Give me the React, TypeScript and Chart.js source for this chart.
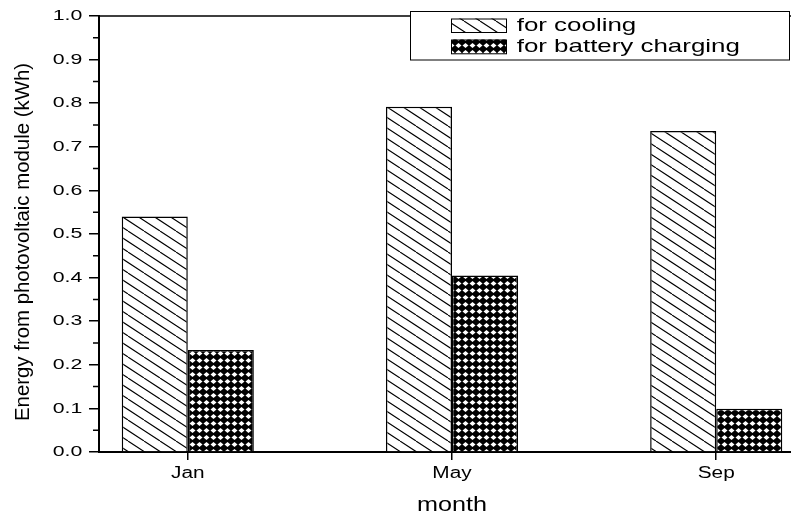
import { useEffect, useRef } from 'react';
import { Chart, registerables } from 'chart.js';

Chart.register(...registerables);

// ---- data ----
const months = ['Jan', 'May', 'Sep'];
const monthPositions = [1, 2, 3];
const coolingEnergy = [0.54, 0.792, 0.736];
const chargingEnergy = [0.234, 0.405, 0.099];
const seriesLabels = ['for cooling', 'for battery charging'];
const xAxisTitle = 'month';
const yAxisTitle = 'Energy from photovoltaic module (kWh)';

const FONT = "'Liberation Sans', Arial, Helvetica, sans-serif";

function stretchText(
  ctx: CanvasRenderingContext2D,
  text: string,
  x: number,
  y: number,
  size: number,
  sx: number,
  align: CanvasTextAlign,
  baseline: CanvasTextBaseline,
  rotate = 0
) {
  ctx.save();
  ctx.translate(x, y);
  if (rotate) ctx.rotate(rotate);
  ctx.scale(sx, 1);
  ctx.font = `${size}px ${FONT}`;
  ctx.fillStyle = '#000';
  ctx.textAlign = align;
  ctx.textBaseline = baseline;
  ctx.fillText(text, 0, 0);
  ctx.restore();
}

function makeHatch(ctx: CanvasRenderingContext2D): CanvasPattern | string {
  const c = document.createElement('canvas');
  c.width = 32;
  c.height = 21;
  const g = c.getContext('2d')!;
  g.fillStyle = '#fff';
  g.fillRect(0, 0, 32, 21);
  g.strokeStyle = '#000';
  g.lineWidth = 1.1;
  g.beginPath();
  for (let x0 = -48; x0 <= 32; x0 += 16) {
    g.moveTo(x0, 0);
    g.lineTo(x0 + 32, 21);
  }
  g.stroke();
  return ctx.createPattern(c, 'repeat') || '#fff';
}

function makeCross(ctx: CanvasRenderingContext2D): CanvasPattern | string {
  const c = document.createElement('canvas');
  c.width = 7;
  c.height = 7;
  const g = c.getContext('2d')!;
  g.fillStyle = '#000';
  g.fillRect(0, 0, 7, 7);
  g.fillStyle = '#fff';
  g.beginPath();
  g.moveTo(3.5, 0.9);
  g.lineTo(6.5, 3.5);
  g.lineTo(3.5, 6.1);
  g.lineTo(0.5, 3.5);
  g.closePath();
  g.fill();
  return ctx.createPattern(c, 'repeat') || '#000';
}

export default function App() {
  const canvasRef = useRef<HTMLCanvasElement | null>(null);

  useEffect(() => {
    const canvas = canvasRef.current;
    if (!canvas) return;
    const ctx0 = canvas.getContext('2d')!;
    const hatch = makeHatch(ctx0);
    const cross = makeCross(ctx0);
    const patterns = [hatch, cross];

    const overlay = {
      id: 'overlay',
      afterDraw(chart: any) {
        const { ctx, chartArea: a, scales } = chart;
        const x = scales.x;
        const y = scales.y;
        ctx.save();
        ctx.strokeStyle = '#000';
        ctx.lineWidth = 1.5;
        ctx.beginPath();
        ctx.moveTo(a.left, a.top);
        ctx.lineTo(a.right, a.top);
        ctx.lineTo(a.right, a.bottom);
        ctx.stroke();
        // minor ticks on y
        const yt = y.ticks;
        ctx.beginPath();
        for (let i = 0; i < yt.length - 1; i++) {
          const p = y.getPixelForValue((yt[i].value + yt[i + 1].value) / 2);
          ctx.moveTo(a.left - 6, p);
          ctx.lineTo(a.left, p);
        }
        ctx.stroke();
        ctx.restore();

        // y tick labels
        yt.forEach((t: any) => {
          stretchText(ctx, t.value.toFixed(1), a.left - 16.7, y.getPixelForValue(t.value), 15, 1.42, 'right', 'middle');
        });
        // x tick labels
        x.ticks.forEach((t: any) => {
          const idx = monthPositions.indexOf(t.value);
          if (idx < 0) return;
          stretchText(ctx, months[idx], x.getPixelForValue(t.value), a.bottom + 26.3, 16, 1.3, 'center', 'alphabetic');
        });
        // axis titles
        stretchText(ctx, xAxisTitle, 452, a.bottom + 58.5, 21, 1.2, 'center', 'alphabetic');
        stretchText(ctx, yAxisTitle, a.left - 70.5, (a.top + a.bottom) / 2 + 8, 20.4, 1.0, 'center', 'alphabetic', -Math.PI / 2);

        // legend box
        ctx.save();
        ctx.fillStyle = '#fff';
        ctx.fillRect(410, 11, 379, 49);
        ctx.strokeStyle = '#000';
        ctx.lineWidth = 1;
        ctx.strokeRect(410.5, 11.5, 379, 48.5);
        const rows = [
          { y: 18.5, h: 13.5, base: 31.3 },
          { y: 39.5, h: 13.8, base: 52.3 },
        ];
        rows.forEach((r, i) => {
          ctx.fillStyle = patterns[i] as any;
          ctx.fillRect(451, r.y, 55, r.h);
          ctx.strokeStyle = '#000';
          ctx.lineWidth = 1;
          ctx.strokeRect(451.5, r.y + 0.5, 55, r.h);
        });
        ctx.restore();
        rows.forEach((r, i) => {
          stretchText(ctx, seriesLabels[i], 516.7, r.base, 18.5, 1.4, 'left', 'alphabetic');
        });
      },
    };

    const chart = new Chart(canvas, {
      type: 'bar',
      data: {
        datasets: [
          {
            label: seriesLabels[0],
            data: monthPositions.map((m, i) => ({ x: m, y: coolingEnergy[i] })),
            backgroundColor: hatch as any,
            borderColor: '#000',
            borderWidth: 1.5,
            categoryPercentage: 0.5,
            barPercentage: 1,
          },
          {
            label: seriesLabels[1],
            data: monthPositions.map((m, i) => ({ x: m, y: chargingEnergy[i] })),
            backgroundColor: cross as any,
            borderColor: '#000',
            borderWidth: 1.5,
            categoryPercentage: 0.5,
            barPercentage: 1,
          },
        ],
      },
      options: {
        responsive: false,
        animation: false,
        events: [],
        layout: { padding: { top: 16, right: 15, left: 0, bottom: 0 } },
        plugins: {
          legend: { display: false },
          tooltip: { enabled: false },
        },
        scales: {
          x: {
            type: 'linear',
            min: 0.664,
            max: 3.336,
            offset: false,
            afterBuildTicks: (s: any) => {
              s.ticks = monthPositions.map((v) => ({ value: v }));
            },
            afterFit: (s: any) => {
              s.height = 60;
            },
            ticks: { display: false },
            grid: {
              offset: false,
              drawOnChartArea: false,
              drawTicks: true,
              tickLength: 8,
              color: '#000',
              lineWidth: 1.5,
            },
            border: { display: true, color: '#000', width: 2 },
          },
          y: {
            type: 'linear',
            min: 0,
            max: 1,
            ticks: { stepSize: 0.1, display: false },
            afterFit: (s: any) => {
              s.width = 99;
            },
            grid: {
              drawOnChartArea: false,
              drawTicks: true,
              tickLength: 10,
              color: '#000',
              lineWidth: 1.5,
            },
            border: { display: true, color: '#000', width: 2 },
          },
        },
      } as any,
      plugins: [overlay],
    });

    return () => {
      chart.destroy();
    };
  }, []);

  return (
    <div
      style={{
        position: 'fixed',
        left: 0,
        top: 0,
        width: 791,
        height: 512,
        overflow: 'hidden',
        background: '#fff',
      }}
    >
      <canvas ref={canvasRef} width={820} height={512} style={{ display: 'block' }} />
    </div>
  );
}
